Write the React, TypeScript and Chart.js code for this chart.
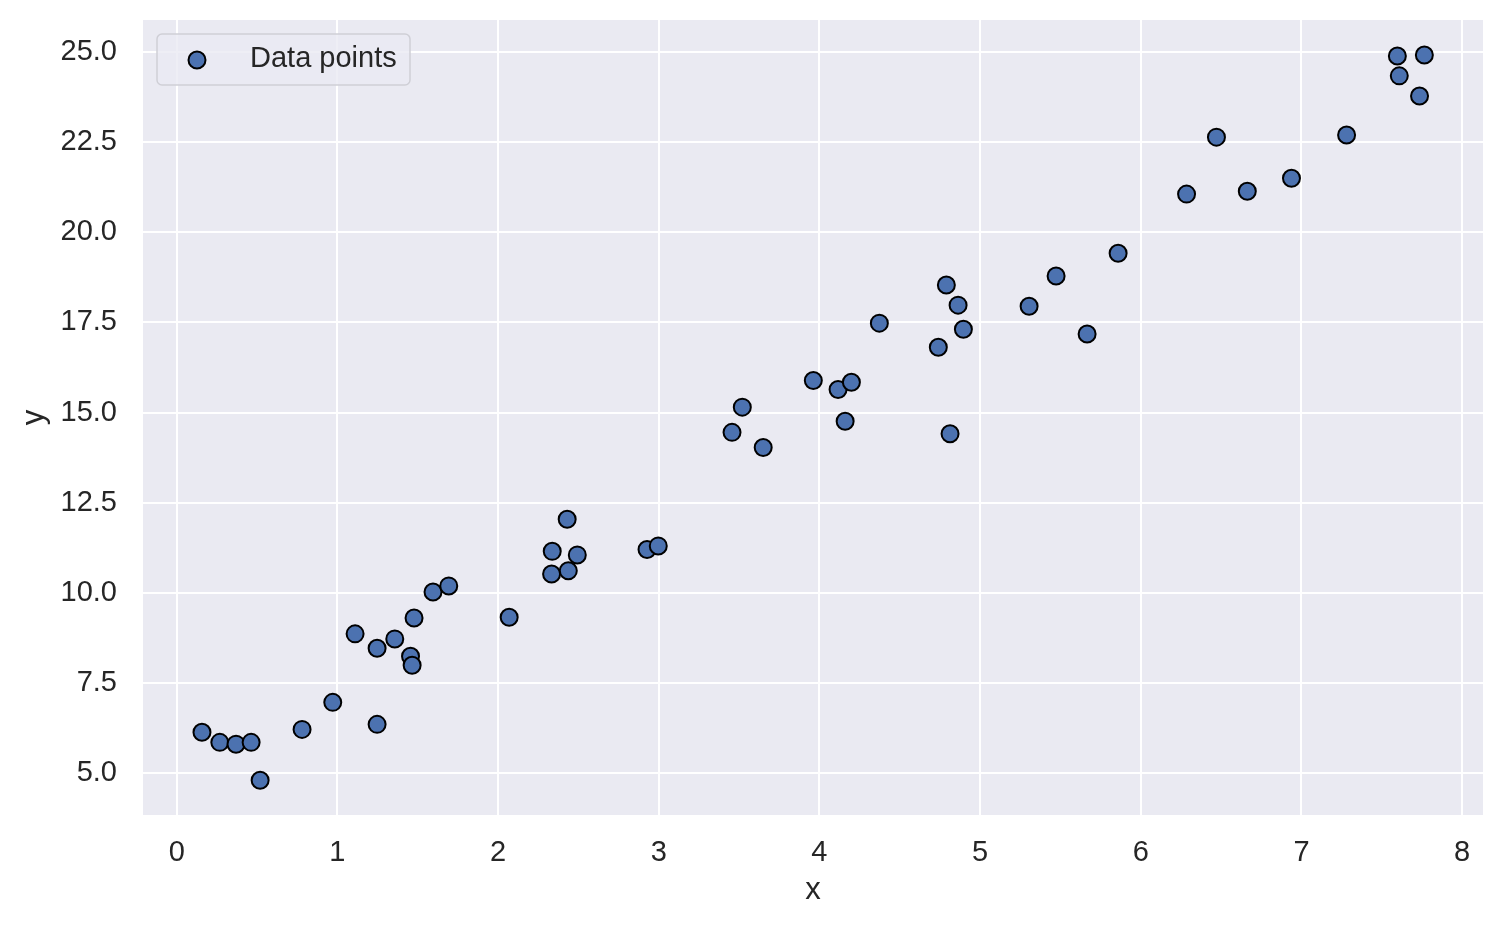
import { useEffect, useRef } from "react";
import { Chart, registerables } from "chart.js";

Chart.register(...registerables);

// scatter values
const xValues = [
  0.157, 0.268, 0.369, 0.463, 0.519, 0.78, 0.971, 1.247, 1.11, 1.247, 1.357, 1.455, 1.465, 1.477,
  1.595, 1.693, 2.069, 2.333, 2.437, 2.337, 2.43, 2.493, 2.927, 2.997, 3.456, 3.52, 3.65, 3.962,
  4.116, 4.199, 4.16, 4.373, 4.74, 4.79, 4.863, 4.896, 4.813, 5.305, 5.473, 5.666, 5.859, 6.285,
  6.471, 6.663, 6.938, 7.281, 7.597, 7.609, 7.735, 7.765,
];
const yValues = [
  6.13, 5.85, 5.8, 5.85, 4.8, 6.21, 6.96, 6.35, 8.86, 8.46, 8.72, 8.24, 7.99, 9.3,
  10.02, 10.19, 9.32, 10.52, 10.61, 11.15, 12.04, 11.05, 11.2, 11.3, 14.45, 15.15, 14.03, 15.89,
  15.64, 15.84, 14.76, 17.48, 16.81, 18.54, 17.98, 17.31, 14.41, 17.95, 18.79, 17.18, 19.42, 21.06,
  22.64, 21.14, 21.5, 22.7, 24.89, 24.34, 23.78, 24.92,
];
const xTicks = [0, 1, 2, 3, 4, 5, 6, 7, 8];
const yTicks = [5, 7.5, 10, 12.5, 15, 17.5, 20, 22.5, 25];

const FONT = "'Liberation Sans', Arial, sans-serif";
const TEXT = "#262626";

const bgPlugin = {
  id: "bg",
  beforeDraw(chart: any) {
    const { ctx, chartArea: a } = chart;
    ctx.save();
    ctx.fillStyle = "#EAEAF2";
    ctx.fillRect(a.left, a.top, a.right - a.left, a.bottom - a.top);
    ctx.restore();
  },
};

const legendPlugin = {
  id: "boxLegend",
  afterDatasetsDraw(chart: any) {
    const { ctx, chartArea: a } = chart;
    const ds = chart.data.datasets[0];
    const x = a.left + 14;
    const y = a.top + 14;
    const w = 253;
    const h = 51;
    ctx.save();
    ctx.beginPath();
    ctx.roundRect(x, y, w, h, 5);
    ctx.fillStyle = "rgba(234,234,242,0.8)";
    ctx.fill();
    ctx.lineWidth = 1.5;
    ctx.strokeStyle = "#cfcfd6";
    ctx.stroke();
    ctx.beginPath();
    ctx.arc(x + 40, y + 26, 8.5, 0, Math.PI * 2);
    ctx.fillStyle = ds.backgroundColor;
    ctx.fill();
    ctx.lineWidth = 2;
    ctx.strokeStyle = ds.borderColor;
    ctx.stroke();
    ctx.fillStyle = TEXT;
    ctx.font = `29px ${FONT}`;
    ctx.textBaseline = "middle";
    ctx.fillText(ds.label, x + 93, y + 25);
    ctx.restore();
  },
};

export default function App() {
  const chartRef = useRef<HTMLCanvasElement>(null);

  useEffect(() => {
    const ctx = chartRef.current!.getContext("2d")!;
    const points = xValues.map((x, i) => ({ x, y: yValues[i] }));
    const chart = new Chart(ctx, {
      type: "scatter",
      data: {
        datasets: [
          {
            label: "Data points",
            data: points,
            backgroundColor: "#4C72B0",
            borderColor: "#000000",
            borderWidth: 2,
            pointRadius: 8.5,
            pointHoverRadius: 8.5,
          },
        ],
      },
      options: {
        animation: false,
        responsive: true,
        maintainAspectRatio: false,
        layout: { padding: { top: 20, right: 21, left: 0, bottom: 0 } },
        plugins: { legend: { display: false }, tooltip: { enabled: false } },
        scales: {
          x: {
            type: "linear",
            min: -0.21,
            max: 8.13,
            afterBuildTicks: (s: any) => {
              s.ticks = xTicks.map((v) => ({ value: v }));
            },
            afterFit: (s: any) => {
              s.height = 113;
              s.paddingLeft = 0;
              s.paddingRight = 0;
            },
            border: { display: false },
            grid: { color: "#ffffff", lineWidth: 2, drawTicks: false },
            ticks: {
              color: TEXT,
              font: { family: FONT, size: 29 },
              padding: 21,
              callback: (v: any) => String(v),
            },
            title: {
              display: true,
              text: "x",
              color: TEXT,
              font: { family: FONT, size: 31 },
              padding: { top: 0, bottom: 19 },
            },
          },
          y: {
            type: "linear",
            min: 3.835,
            max: 25.89,
            afterBuildTicks: (s: any) => {
              s.ticks = yTicks.map((v) => ({ value: v }));
            },
            afterFit: (s: any) => {
              s.width = 143;
              s.paddingTop = 0;
              s.paddingBottom = 0;
            },
            border: { display: false },
            grid: { color: "#ffffff", lineWidth: 2, drawTicks: false },
            ticks: {
              color: TEXT,
              font: { family: FONT, size: 29 },
              padding: 26,
              callback: (v: any) => Number(v).toFixed(1),
            },
            title: {
              display: true,
              text: "y",
              color: TEXT,
              font: { family: FONT, size: 31 },
              padding: { top: 16, bottom: 16 },
            },
          },
        },
      },
      plugins: [bgPlugin, legendPlugin],
    });
    return () => {
      chart.destroy();
    };
  }, []);

  return (
    <div style={{ position: "fixed", left: 0, top: 0, width: 1504, height: 928, background: "#fff" }}>
      <canvas ref={chartRef} />
    </div>
  );
}
